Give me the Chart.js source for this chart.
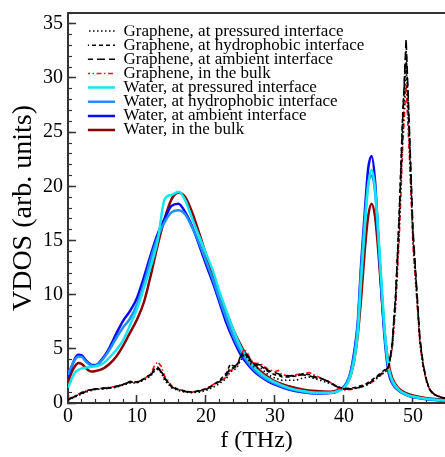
<!DOCTYPE html>
<html>
<head>
<meta charset="utf-8">
<script src="https://cdn.jsdelivr.net/npm/chart.js@4/dist/chart.umd.min.js"></script>
<style>
  html, body { margin: 0; padding: 0; background: #fff; }
  #wrap { width: 445px; height: 457px; position: relative; }
</style>
</head>
<body>
<div id="wrap"><canvas id="vdos"></canvas></div>
<script>
// VDOS of graphene / water

const seriesLabels = [
    'Graphene, at pressured interface',
    'Graphene, at hydrophobic interface',
    'Graphene, at ambient interface',
    'Graphene, in the bulk',
    'Water, at pressured interface',
    'Water, at hydrophobic interface',
    'Water, at ambient interface',
    'Water, in the bulk'
];

// frequencies (THz)
const grapheneFreq = [0,1,2,3,4,5,6,7,8,9,10,11,12,12.5,13,13.5,14,15,16,17,18,19,20,21,22,23,23.5,24,24.5,25,25.5,26,26.5,27,28,29,30,30.5,31,32,33,34,35,36,37,38,39,40,41,42,43,44,45,46,46.5,47,47.5,48,48.5,49,49.5,50,50.5,51,51.5,52,52.5,53,54,54.6];
const waterFreq = [0,0.5,1,1.5,2,2.5,3,3.5,4,5,6,7,8,9,10,11,12,13,14,15,16,17,18,19,20,21,22,23,24,25,26,27,28,29,30,32,34,36,38,39,40,40.5,41,41.5,42,42.5,43,43.5,44,44.5,45,45.5,46,46.5,47,48,49,50,52,54.6];

const graphenePressured = [0.3,0.55,0.85,1.1,1.25,1.3,1.35,1.45,1.65,1.85,1.85,2.1,2.5,
    2.9,3.1,2.8,2.1,
    1.4,1.15,1.0,0.95,1.0,1.15,1.45,1.8,2.3,
    2.9,3.0,3.3,3.9,4.4,4.2,3.6,3.3,
    3.2,2.6,2.3,
    2.2,2.1,
    2.1,2.1,2.3,2.4,2.2,2.0,1.8,1.5,1.3,1.3,1.4,1.6,1.9,2.4,2.9,
    3.3,5.2,9.5,16,24.5,31.5,23.5,15,10.5,5.6,3.3,1.9,1.1,0.8,
    0.5,0.42];
const grapheneHydrophobic = [0.3,0.6,0.95,1.2,1.3,1.35,1.4,1.55,1.7,2.0,1.95,2.25,2.65,
    3.1,3.3,3.0,2.3,
    1.5,1.25,1.1,1.0,1.15,1.3,1.65,2.1,2.8,
    3.6,3.4,3.5,4.2,4.6,4.3,3.8,3.5,
    3.4,2.9,2.6,
    2.6,2.4,
    2.4,2.5,2.7,2.6,2.4,2.2,1.9,1.5,1.35,1.35,1.5,1.7,2.1,2.6,3.1,
    3.4,5.6,10.2,17.5,26.5,32.5,24.5,15.5,10.8,5.8,3.4,1.95,1.15,0.82,
    0.52,0.44];
const grapheneAmbient = [0.3,0.6,0.9,1.15,1.3,1.35,1.4,1.5,1.7,1.95,1.9,2.2,2.6,
    3.0,3.2,2.9,2.3,
    1.5,1.2,1.05,1.0,1.1,1.25,1.6,2.0,2.6,
    3.3,3.2,3.6,4.3,4.7,4.4,3.9,3.6,
    3.5,3.0,2.8,
    2.7,2.5,
    2.5,2.5,2.6,2.5,2.3,2.2,1.9,1.5,1.3,1.3,1.4,1.6,2.0,2.5,3.0,
    3.4,5.5,10,17,26,33.6,25,16,11,6,3.5,2.0,1.2,0.85,
    0.55,0.45];
const grapheneBulk = [0.35,0.65,1.0,1.2,1.3,1.35,1.45,1.55,1.75,1.9,1.9,2.2,2.7,
    3.4,3.8,3.4,2.5,
    1.6,1.25,1.1,1.0,1.15,1.3,1.7,2.0,2.4,
    3.0,3.1,3.4,4.2,5.0,4.6,4.0,3.7,
    3.6,3.1,2.9,
    3.0,2.6,
    2.5,2.6,2.7,2.8,2.5,2.2,1.9,1.4,1.2,1.25,1.4,1.55,1.9,2.4,2.9,
    3.3,5.0,9.0,15.0,23.5,29.4,22.5,14.5,10.0,5.5,3.2,1.9,1.1,0.8,
    0.5,0.42];

const waterPressured = [1.4,2.2,2.8,3.05,3.2,3.25,3.3,3.35,3.4,
    3.6,4.2,4.9,5.8,7.2,8.7,10.6,12.6,15.0,18.8,19.2,19.5,18.7,17.0,15.4,13.8,12.2,10.2,8.4,6.7,5.2,4.1,3.3,2.7,2.25,1.9,
    1.4,1.1,0.95,0.95,1.05,1.4,
    1.8,2.6,4.0,6.5,11.5,16.0,20.0,21.5,19.8,15.5,10.5,6.0,3.2,2.1,
    1.2,0.8,0.6,0.38,0.24];
const waterHydrophobic = [2.6,3.4,4.0,4.3,4.25,3.9,3.6,3.45,3.45,
    4.0,4.9,6.0,7.0,7.8,9.1,11.0,13.3,15.3,16.7,17.6,17.8,17.4,16.2,14.8,13.1,11.4,9.5,7.7,6.1,4.8,3.8,3.05,2.5,2.1,1.8,
    1.3,1.05,0.92,0.95,1.1,1.5,
    2.0,2.9,4.5,7.2,12.5,16.8,20.2,21.0,19.5,15.0,10.0,5.6,3.0,1.9,
    1.15,0.78,0.57,0.36,0.23];
const waterAmbient = [2.4,3.3,4.1,4.45,4.4,4.0,3.7,3.5,3.5,
    4.1,5.1,6.4,7.6,8.5,9.7,11.6,13.7,15.6,17.0,18.2,18.4,17.6,16.3,14.6,12.8,11.1,9.2,7.3,5.8,4.5,3.6,2.9,2.4,2.0,1.7,
    1.25,1.0,0.88,0.92,1.05,1.5,
    2.0,3.0,4.8,7.5,13.0,17.5,21.6,22.8,20.5,15.0,9.5,5.2,2.7,1.8,
    1.1,0.75,0.55,0.35,0.22];
const waterBulk = [1.85,2.8,3.4,3.7,3.6,3.3,3.0,2.9,2.95,
    3.15,3.6,4.3,5.3,6.5,7.7,9.3,11.8,14.6,17.0,18.8,19.4,19.0,17.6,15.7,13.7,11.8,9.9,8.3,6.7,5.4,4.3,3.5,2.9,2.4,2.0,
    1.55,1.25,1.1,1.05,1.15,1.5,
    1.9,2.6,4.0,6.3,9.8,14.0,17.2,18.4,17.2,13.8,9.5,5.8,3.5,2.3,
    1.3,0.9,0.7,0.45,0.3];

const X_MAX = 54.64;
const Y_MAX = 36;
const SERIF = 'Liberation Serif';
const AXIS_SERIF = 'Times New Roman';

Chart.defaults.font.family = AXIS_SERIF;
Chart.defaults.color = '#000';

function pts(xs, ys) {
    return xs.map((x, i) => ({ x: x, y: ys[i] }));
}

function graphene(label, ys, color, dash) {
    return {
        label: label, data: pts(grapheneFreq, ys),
        borderColor: color, backgroundColor: color,
        borderWidth: 1.6, borderDash: dash,
        pointRadius: 0, tension: 0, xAxisID: 'x', yAxisID: 'y'
    };
}
function water(label, ys, color) {
    return {
        label: label, data: pts(waterFreq, ys),
        borderColor: color, backgroundColor: color,
        borderWidth: 2.5, pointRadius: 0,
        cubicInterpolationMode: 'monotone', xAxisID: 'x', yAxisID: 'y'
    };
}

const datasets = [
    graphene(seriesLabels[0], graphenePressured, '#000000', [1.5, 2.5]),
    graphene(seriesLabels[1], grapheneHydrophobic, '#000000', [4, 3]),
    graphene(seriesLabels[2], grapheneAmbient, '#000000', [8, 4]),
    graphene(seriesLabels[3], grapheneBulk, '#ff1010', [5, 2.5, 1.5, 2.5]),
    water(seriesLabels[4], waterPressured, '#14e6f0'),
    water(seriesLabels[5], waterHydrophobic, '#1e90ff'),
    water(seriesLabels[6], waterAmbient, '#0a0af0'),
    water(seriesLabels[7], waterBulk, '#8b0000')
];

// zero the automatic label padding so the plot area lands where we want it
function fixSize(prop, value) {
    return (scale) => {
        scale[prop] = value;
        scale.paddingTop = 0; scale.paddingBottom = 0;
        scale.paddingLeft = 0; scale.paddingRight = 0;
    };
}

// legend sits inside the plot, nudge it to the reference spot
const legendSpot = {
    id: 'legendSpot',
    afterLayout(chart) {
        const lg = chart.legend;
        const area = chart.chartArea;
        lg.left = 87.9;
        lg.top = 25.4;
        lg.right = area.right;
        lg.bottom = area.bottom;
        lg.width = lg.right - lg.left;
        lg.height = lg.bottom - lg.top;
    }
};

const tickFont = { family: AXIS_SERIF, size: 20 };

const ctx = document.getElementById('vdos').getContext('2d');
const chart = new Chart(ctx, {
    type: 'line',
    data: { datasets: datasets },
    plugins: [legendSpot],
    options: {
        responsive: true,
        maintainAspectRatio: false,
        animation: false,
        layout: { padding: 0, autoPadding: false },
        plugins: {
            tooltip: { enabled: false },
            legend: {
                position: 'chartArea',
                align: 'start',
                labels: {
                    usePointStyle: true,
                    pointStyle: 'line',
                    pointStyleWidth: 30,
                    padding: -2.86,
                    color: '#000',
                    font: { family: SERIF, size: 17 },
                    generateLabels: (chart) => {
                        const items = Chart.defaults.plugins.legend.labels.generateLabels(chart);
                        items.forEach(it => {
                            const ds = chart.data.datasets[it.datasetIndex];
                            it.lineDash = ds.borderDash || [];
                            it.lineWidth = ds.borderWidth;
                            it.strokeStyle = ds.borderColor;
                            it.pointStyle = 'line';
                        });
                        return items;
                    }
                }
            }
        },
        scales: {
            x: {
                type: 'linear', position: 'bottom', weight: 1,
                min: 0, max: X_MAX,
                ticks: { stepSize: 10, includeBounds: false, maxRotation: 0, padding: 9.5,
                         color: '#000', font: tickFont },
                grid: { drawOnChartArea: false, tickLength: -8, tickColor: '#333', tickWidth: 1.5 },
                border: { color: '#333', width: 2 },
                title: { display: true, text: 'f (THz)', color: '#000',
                         font: { family: AXIS_SERIF, size: 24 }, padding: { top: 0, bottom: 2 } },
                afterFit: fixSize('height', 54)
            },
            xMinor: {
                type: 'linear', position: 'bottom', weight: 0,
                min: 0, max: X_MAX,
                ticks: { display: false, stepSize: 2, includeBounds: false },
                grid: { drawOnChartArea: false, tickLength: -4, tickColor: '#333', tickWidth: 1.2 },
                border: { display: false },
                afterFit: fixSize('height', 0)
            },
            xTop: {
                type: 'linear', position: 'top', weight: 1,
                min: 0, max: X_MAX,
                ticks: { display: false },
                grid: { display: false },
                border: { color: '#333', width: 2 },
                afterFit: fixSize('height', 13)
            },
            y: {
                type: 'linear', position: 'left', weight: 1,
                min: 0, max: Y_MAX,
                ticks: { stepSize: 5, includeBounds: false, padding: 13,
                         color: '#000', font: tickFont },
                grid: { drawOnChartArea: false, tickLength: -8, tickColor: '#333', tickWidth: 1.5 },
                border: { color: '#333', width: 2 },
                title: { display: true, text: 'VDOS (arb. units)', color: '#000',
                         font: { family: AXIS_SERIF, size: 28 }, padding: { top: 7, bottom: 0 } },
                afterFit: fixSize('width', 68)
            },
            yMinor: {
                type: 'linear', position: 'left', weight: 0,
                min: 0, max: Y_MAX,
                ticks: { display: false, stepSize: 1, includeBounds: false },
                grid: { drawOnChartArea: false, tickLength: -4, tickColor: '#333', tickWidth: 1.2 },
                border: { display: false },
                afterFit: fixSize('width', 0)
            }
        }
    }
});
</script>
</body>
</html>
